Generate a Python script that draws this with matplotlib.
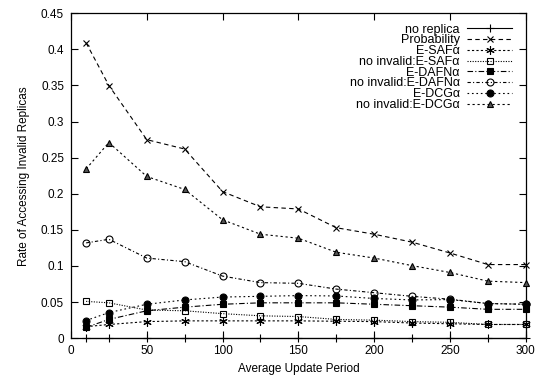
import numpy as np
import matplotlib
matplotlib.use('Agg')
import matplotlib.pyplot as plt

# Average update period (x) and rate of accessing invalid replicas for each scheme
period = [10, 25, 50, 75, 100, 125, 150, 175, 200, 225, 250, 275, 300]

no_replica = [0, 0, 0, 0, 0, 0, 0, 0, 0, 0, 0, 0, 0]
probability = [0.409, 0.350, 0.275, 0.262, 0.203, 0.182, 0.179, 0.153, 0.144, 0.133, 0.118, 0.102, 0.102]
e_saf = [0.016, 0.019, 0.023, 0.024, 0.024, 0.024, 0.024, 0.0235, 0.023, 0.021, 0.020, 0.019, 0.019]
ni_e_saf = [0.051, 0.049, 0.039, 0.038, 0.034, 0.031, 0.030, 0.026, 0.025, 0.023, 0.022, 0.019, 0.019]
e_dafn = [0.015, 0.026, 0.038, 0.043, 0.047, 0.049, 0.049, 0.049, 0.047, 0.045, 0.043, 0.040, 0.040]
ni_e_dafn = [0.132, 0.137, 0.111, 0.106, 0.086, 0.077, 0.076, 0.068, 0.063, 0.058, 0.054, 0.048, 0.047]
e_dcg = [0.0245, 0.0355, 0.047, 0.053, 0.057, 0.058, 0.059, 0.0585, 0.055, 0.053, 0.0535, 0.048, 0.047]
ni_e_dcg = [0.2345, 0.271, 0.224, 0.206, 0.164, 0.144, 0.1385, 0.119, 0.111, 0.1005, 0.091, 0.079, 0.077]

plt.rcParams['font.family'] = ['Liberation Sans', 'DejaVu Sans']
plt.rcParams['font.size'] = 8.5

fig = plt.figure(figsize=(5.46, 3.8), dpi=100)
ax = fig.add_axes([0.130, 0.110, 0.833, 0.855])

lw = 0.8
series = [
    (no_replica, 'no replica', '-', '+', 'k', 6),
    (probability, 'Probability', (0, (4, 3)), 'x', 'k', 5),
    (e_saf, 'E-SAFα', (0, (2, 2)), (6, 2, 0), 'k', 6),
    (ni_e_saf, 'no invalid:E-SAFα', (0, (1, 1.3)), 's', 'none', 5),
    (e_dafn, 'E-DAFNα', (0, (5, 2, 1, 2)), 's', 'k', 5),
    (ni_e_dafn, 'no invalid:E-DAFNα', (0, (3, 2, 1, 2)), 'o', 'none', 5),
    (e_dcg, 'E-DCGα', (0, (1.5, 2.5)), 'o', 'k', 5),
    (ni_e_dcg, 'no invalid:E-DCGα', (0, (2, 2.5)), '^', '#555555', 5),
]

for vals, label, ls, mk, fc, ms in series:
    ax.plot(period, vals, color='k', linewidth=lw, linestyle=ls, marker=mk,
            markersize=ms, markerfacecolor=fc, markeredgecolor='k',
            markeredgewidth=0.8, label=label, clip_on=False, zorder=3)

ax.set_xlim(0, 300)
ax.set_ylim(0, 0.45)
ax.set_xticks(np.arange(0, 301, 50))
ax.set_yticks(np.arange(0, 0.451, 0.05))
ax.set_yticklabels(['0', '0.05', '0.1', '0.15', '0.2', '0.25', '0.3', '0.35', '0.4', '0.45'])
ax.tick_params(direction='in', top=True, right=True, length=5, width=0.8, pad=5)
for sp in ax.spines.values():
    sp.set_linewidth(0.9)

ax.set_xlabel('Average Update Period', labelpad=4)
ax.set_ylabel('Rate of Accessing Invalid Replicas', labelpad=8)

leg = ax.legend(loc='upper right', bbox_to_anchor=(0.99, 0.995), frameon=False,
                markerfirst=False, handlelength=3.6, handletextpad=0.6,
                labelspacing=-0.1, borderpad=0.2, fontsize=9)
for t in leg.get_texts():
    t.set_ha('right')
leg._legend_box.align = 'right'

fig.savefig('out.png', dpi=100)
